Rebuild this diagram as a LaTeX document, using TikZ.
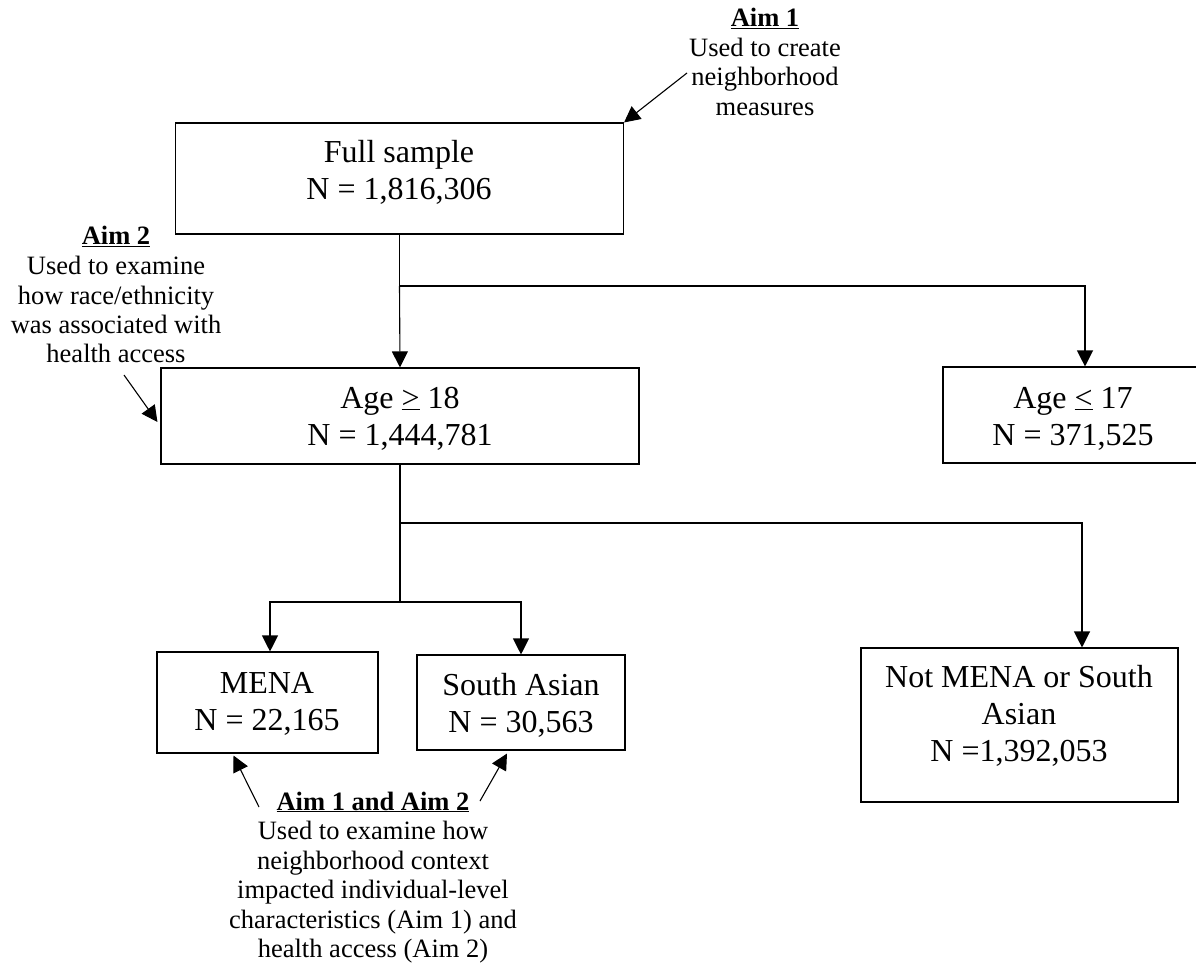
\documentclass[tikz,border=0pt]{standalone}
\usepackage{fontspec}
\setmainfont{Liberation Serif}
\usetikzlibrary{arrows.meta,calc}
\newcommand{\boxtxt}[1]{\fontsize{32}{37}\selectfont\begin{tabular}[t]{@{}c@{}}#1\end{tabular}}
\newcommand{\annotxt}[1]{\fontsize{26.5}{29.5}\selectfont\begin{tabular}[t]{@{}c@{}}#1\end{tabular}}
\begin{document}
\begin{tikzpicture}[x=1pt,y=-1pt,
  box/.style={draw, line width=1.1pt, rectangle, inner sep=0pt},
  txt/.style={anchor=base, inner sep=0pt},
  arr/.style={-{Triangle[width=16pt,length=16pt]}, line width=1.1pt},
  ln/.style={line width=1.1pt}]
\useasboundingbox (0,0) rectangle (1196,968);
% boxes
\node[box, minimum width=448pt, minimum height=111pt] (full) at (399.5,178.5) {};
\node[box, minimum width=478pt, minimum height=96pt] (age18) at (400,416) {};
\node[box, minimum width=290pt, minimum height=96pt] (age17) at (1088,415) {};
\node[box, minimum width=221pt, minimum height=101pt] (mena) at (267.5,702.5) {};
\node[box, minimum width=208pt, minimum height=95pt] (south) at (521,702.5) {};
\node[box, minimum width=317pt, minimum height=154pt] (notmena) at (1019.5,725) {};
% box texts
\node[txt] (fullT) at (399,163) {\boxtxt{Full sample\\N = 1,816,306}};
\node[txt] (age18T) at (400,408) {\boxtxt{Age \underline{>} 18\\N = 1,444,781}};
\node[txt] (age17T) at (1073,408) {\boxtxt{Age \underline{<} 17\\N = 371,525}};
\node[txt] (menaT) at (267,693) {\boxtxt{MENA\\N = 22,165}};
\node[txt] (southT) at (521,695) {\boxtxt{South Asian\\N = 30,563}};
\node[txt] (notmenaT) at (1019,687) {\boxtxt{Not MENA or South\\Asian\\N =1,392,053}};
% annotations
\node[txt] (aim1) at (765,27) {\annotxt{\textbf{\underline{Aim 1}}\\Used to create\\neighborhood\\measures}};
\node[txt] (aim2) at (116,245) {\annotxt{\textbf{\underline{Aim 2}}\\Used to examine\\how race/ethnicity\\was associated with\\health access}};
\node[txt] (aim12) at (373,810) {\annotxt{\textbf{\underline{Aim 1 and Aim 2}}\\Used to examine how\\neighborhood context\\impacted individual-level\\characteristics (Aim 1) and\\health access (Aim 2)}};
% tree connectors
\coordinate (s1) at (399.5,286);
\coordinate (s2) at (400,523);
\coordinate (s3) at (400,602);
\draw[ln] (full.south) -- (s1);
\draw[arr] (s1) -- (age18.north);
\draw[arr] (s1) -| ($(age17.north)+(-3,0)$);
\draw[ln] (age18.south) -- (s3);
\draw[arr] (s2) -| ($(notmena.north)+(62.5,0)$);
\draw[arr] (s3) -| ($(mena.north)+(2.5,0)$);
\draw[arr] (s3) -| (south.north);
% annotation arrows
\coordinate (a1s) at (687,73);
\coordinate (a2s) at (124,375);
\coordinate (a3l) at (259,807);
\coordinate (a3r) at (480,801);
\draw[arr] (a1s) -- (full.north east);
\draw[arr] (a2s) -- ($(age18.west)+(-3,6)$);
\draw[arr] (a3l) -- ($(mena.south)+(-34,2)$);
\draw[arr] (a3r) -- ($(south.south)+(-14,3)$);
\end{tikzpicture}
\end{document}
